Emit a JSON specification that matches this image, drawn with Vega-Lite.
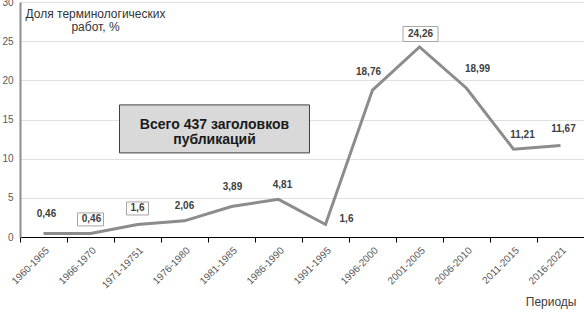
{
  "$schema": "https://vega.github.io/schema/vega-lite/v6.json",
  "width": 564,
  "height": 235,
  "autosize": {"type": "none"},
  "padding": {"left": 20, "top": 2, "right": 0, "bottom": 73},
  "background": "white",
  "config": {
    "locale": {"number": {"decimal": ",", "thousands": " ", "grouping": [3], "currency": ["", ""]}},
    "font": "Liberation Sans",
    "view": {"stroke": null},
    "text": {"font": "Liberation Sans", "fontWeight": "bold", "fontSize": 10, "color": "#404040"}
  },
  "data": {
    "values": [
      {"period": "1960-1965", "v": 0.46},
      {"period": "1966-1970", "v": 0.46},
      {"period": "1971-19751", "v": 1.6},
      {"period": "1976-1980", "v": 2.06},
      {"period": "1981-1985", "v": 3.89},
      {"period": "1986-1990", "v": 4.81},
      {"period": "1991-1995", "v": 1.6},
      {"period": "1996-2000", "v": 18.76},
      {"period": "2001-2005", "v": 24.26},
      {"period": "2006-2010", "v": 18.99},
      {"period": "2011-2015", "v": 11.21},
      {"period": "2016-2021", "v": 11.67}
    ]
  },
  "encoding": {
    "x": {
      "field": "period", "type": "nominal", "sort": null,
      "scale": {"type": "band", "paddingInner": 0, "paddingOuter": 0,
        "domain": ["1960-1965","1966-1970","1971-19751","1976-1980","1981-1985","1986-1990","1991-1995","1996-2000","2001-2005","2006-2010","2011-2015","2016-2021"]},
      "axis": {
        "title": "Периоды", "titleFont": "Liberation Sans", "titleFontSize": 12, "titleFontWeight": "normal", "titleColor": "#404040",
        "titleAlign": "right", "titleAnchor": null, "titleX": 556, "titleY": 59, "titleBaseline": "top",
        "labelAngle": -45, "labelAlign": "right", "labelBaseline": "top", "labelFontSize": 10, "labelColor": "#595959", "labelPadding": 3,
        "domainColor": "#000000", "domainWidth": 1, "tickColor": "#000000", "tickSize": 5, "tickBand": "extent", "grid": false
      }
    },
    "y": {
      "field": "v", "type": "quantitative",
      "scale": {"domain": [0, 30], "nice": false, "zero": true},
      "axis": {
        "values": [0, 5, 10, 15, 20, 25, 30],
        "title": ["Доля терминологических", "работ, %"], "titleAngle": 0, "titleAlign": "center", "titleBaseline": "top",
        "titleX": 75, "titleY": 6, "titleFontSize": 12, "titleFontWeight": "normal", "titleColor": "#333333", "titleLineHeight": 13,
        "labelFontSize": 10, "labelColor": "#595959", "labelPadding": 7,
        "ticks": false, "domainColor": "#8c8c8c", "domainWidth": 2,
        "grid": true, "gridColor": "#e0e0e0", "gridWidth": 1
      }
    }
  },
  "layer": [
    {
      "transform": [{"filter": {"field": "period", "equal": "1976-1980"}}],
      "mark": {"type": "point", "shape": "M-2.708,-1H5.208V1H-2.708Z", "size": 2304, "filled": true, "fill": "#d9d9d9", "stroke": "#404040", "strokeWidth": 1, "opacity": 1},
      "encoding": {"y": {"datum": 13.8}}
    },
    {
      "transform": [{"filter": {"field": "period", "equal": "1976-1980"}}],
      "mark": {"type": "text", "text": ["Всего 437 заголовков", "публикаций"], "fontSize": 14, "color": "#1a1a1a", "dx": 30, "dy": -4, "lineHeight": 15, "baseline": "middle"},
      "encoding": {"y": {"datum": 13.8}}
    },
    {
      "mark": {"type": "line", "color": "#8c8c8c", "strokeWidth": 3}
    },
    {
      "transform": [{"filter": {"field": "period", "equal": "1966-1970"}}],
      "mark": {"type": "point", "shape": "M-2,-3.15H2V-1.15H-2Z", "size": 169, "filled": true, "fill": "white", "stroke": "#a6a6a6", "strokeWidth": 1, "opacity": 1}
    },
    {
      "transform": [{"filter": {"field": "period", "equal": "1971-19751"}}],
      "mark": {"type": "point", "shape": "M-1.69,-3.46H1.69V-1.46H-1.69Z", "size": 169, "filled": true, "fill": "white", "stroke": "#a6a6a6", "strokeWidth": 1, "opacity": 1}
    },
    {
      "transform": [{"filter": {"field": "period", "equal": "2001-2005"}}],
      "mark": {"type": "point", "shape": "M-2.2,-2.73H2.47V-0.73H-2.2Z", "size": 225, "filled": true, "fill": "white", "stroke": "#a6a6a6", "strokeWidth": 1, "opacity": 1}
    },
    {
      "transform": [{"filter": {"field": "period", "equal": "1960-1965"}}],
      "mark": {"type": "text", "dx": 3, "dy": -19},
      "encoding": {"text": {"field": "v", "format": ".2~f"}}
    },
    {
      "transform": [{"filter": {"field": "period", "equal": "1966-1970"}}],
      "mark": {"type": "text", "dx": 1, "dy": -14},
      "encoding": {"text": {"field": "v", "format": ".2~f"}}
    },
    {
      "transform": [{"filter": {"field": "period", "equal": "1971-19751"}}],
      "mark": {"type": "text", "dx": 0, "dy": -16},
      "encoding": {"text": {"field": "v", "format": ".2~f"}}
    },
    {
      "transform": [{"filter": {"field": "period", "equal": "1976-1980"}}],
      "mark": {"type": "text", "dx": 0, "dy": -15},
      "encoding": {"text": {"field": "v", "format": ".2~f"}}
    },
    {
      "transform": [{"filter": {"field": "period", "equal": "1981-1985"}}],
      "mark": {"type": "text", "dx": 1, "dy": -20},
      "encoding": {"text": {"field": "v", "format": ".2~f"}}
    },
    {
      "transform": [{"filter": {"field": "period", "equal": "1986-1990"}}],
      "mark": {"type": "text", "dx": 4, "dy": -14},
      "encoding": {"text": {"field": "v", "format": ".2~f"}}
    },
    {
      "transform": [{"filter": {"field": "period", "equal": "1991-1995"}}],
      "mark": {"type": "text", "dx": 21, "dy": -5},
      "encoding": {"text": {"field": "v", "format": ".2~f"}}
    },
    {
      "transform": [{"filter": {"field": "period", "equal": "1996-2000"}}],
      "mark": {"type": "text", "dx": -4, "dy": -18},
      "encoding": {"text": {"field": "v", "format": ".2~f"}}
    },
    {
      "transform": [{"filter": {"field": "period", "equal": "2001-2005"}}],
      "mark": {"type": "text", "dx": 1, "dy": -13},
      "encoding": {"text": {"field": "v", "format": ".2~f"}}
    },
    {
      "transform": [{"filter": {"field": "period", "equal": "2006-2010"}}],
      "mark": {"type": "text", "dx": 11, "dy": -19},
      "encoding": {"text": {"field": "v", "format": ".2~f"}}
    },
    {
      "transform": [{"filter": {"field": "period", "equal": "2011-2015"}}],
      "mark": {"type": "text", "dx": 9, "dy": -14},
      "encoding": {"text": {"field": "v", "format": ".2~f"}}
    },
    {
      "transform": [{"filter": {"field": "period", "equal": "2016-2021"}}],
      "mark": {"type": "text", "dx": 3, "dy": -17},
      "encoding": {"text": {"field": "v", "format": ".2~f"}}
    }
  ]
}
